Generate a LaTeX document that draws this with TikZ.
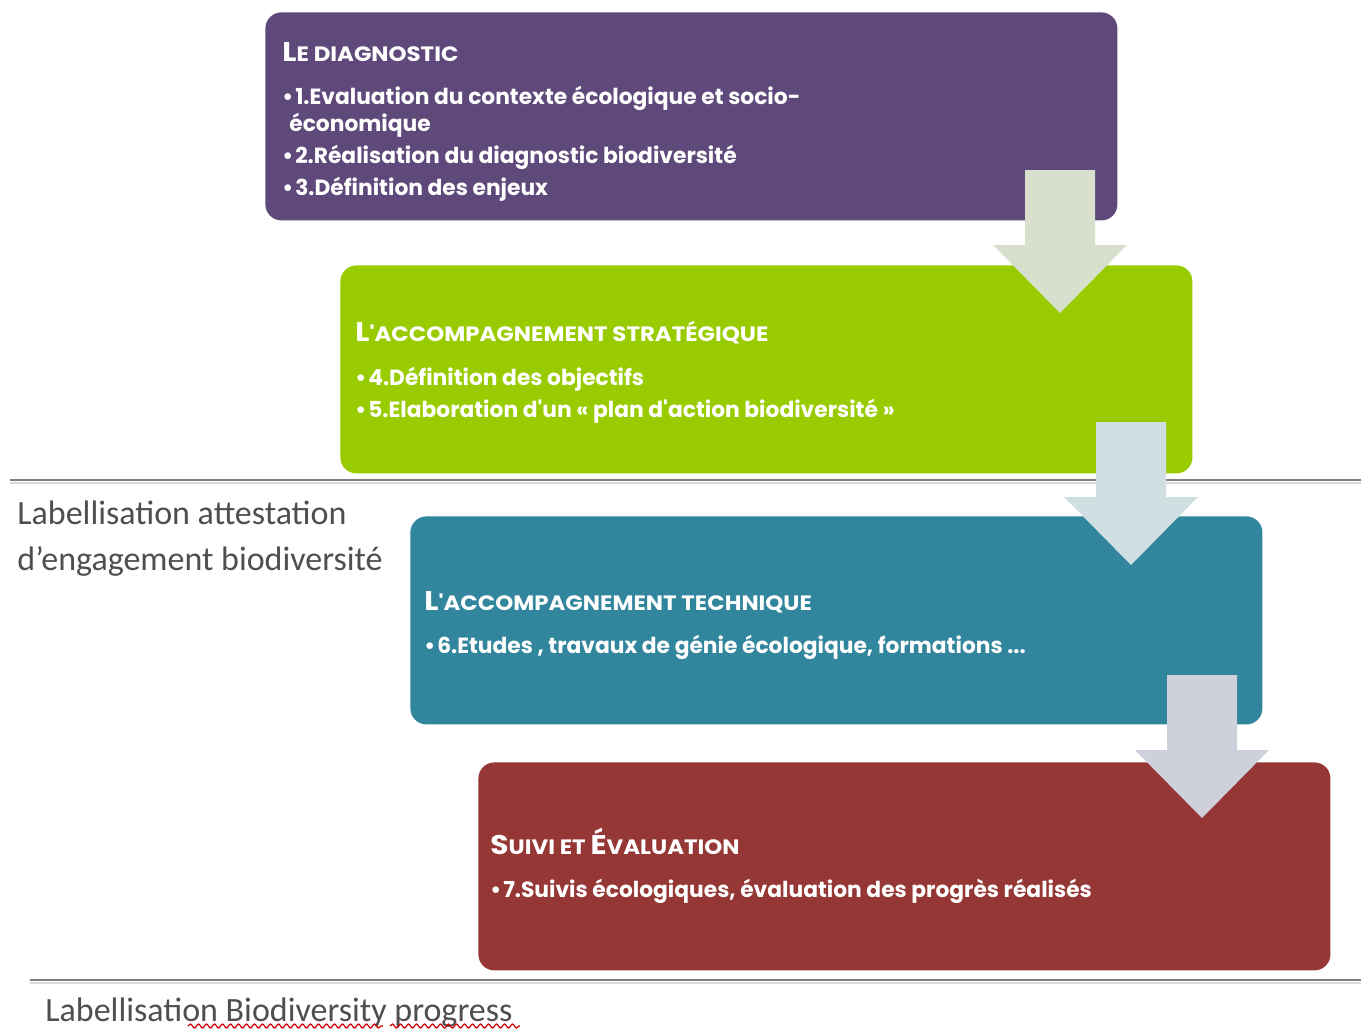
\documentclass[tikz,border=0pt]{standalone}
\usepackage{fontspec}
\setmainfont{Carlito}
\newfontfamily\bx[FakeStretch=0.99]{Poppins}
\newfontfamily\tx[FakeStretch=1.1]{Poppins}
\usetikzlibrary{decorations.pathmorphing}
\definecolor{purp}{HTML}{5F497A}
\definecolor{grn}{HTML}{99CC00}
\definecolor{teal}{HTML}{31859C}
\definecolor{rouge}{HTML}{953735}
\definecolor{arA}{HTML}{D8E0CD}
\definecolor{arB}{HTML}{CFDFE2}
\definecolor{arC}{HTML}{CED0DC}
\definecolor{lab}{HTML}{4F4F4F}
\definecolor{rule}{HTML}{7F7F7F}
\newcommand\ttl[2]{{\fontsize{13.5}{15}\selectfont #1}{\fontsize{10.4}{12}\selectfont #2}}
\newcommand\blt{\textbullet\hspace{1pt}}
\begin{document}
\begin{tikzpicture}[x=0.5pt,y=-0.5pt,
  stage/.style={anchor=north west, rounded corners=8pt, inner sep=0, minimum width=426pt, minimum height=104pt},
  bt/.style={anchor=base west, inner sep=0, text=white, font=\bx\bfseries\fontsize{11}{12}\selectfont},
  tt/.style={anchor=base west, inner sep=0, text=white, font=\tx\bfseries},
  lbl/.style={anchor=base west, inner sep=0, text=lab, font=\fontsize{17}{20}\selectfont},
  rulel/.style={draw=rule, line width=1.2pt},
  shad/.style={draw=black!15, line width=1pt}]
\useasboundingbox (0,0) rectangle (1361,1029);
\fill[white] (0,0) rectangle (1361,1029);
% stage boxes
\node[stage, fill=purp] (b1) at (265,12) {};
\node[stage, fill=grn] (b2) at (340,265) {};
\node[stage, fill=teal] (b3) at (410,516) {};
\node[stage, fill=rouge] (b4) at (478,762) {};
% rules
\draw[shad] (10,483) -- (1361,483);
\draw[rulel] (10,480) -- (1361,480);
\draw[shad] (30,983) -- (1361,983);
\draw[rulel] (30,980) -- (1361,980);
% block arrows
\fill[arA] (1025,170) -- (1095,170) -- (1095,245) -- (1127,245) -- (1060,313) -- (993,245) -- (1025,245) -- cycle;
\fill[arB] (1096,422) -- (1166,422) -- (1166,497) -- (1198,497) -- (1131,565) -- (1064,497) -- (1096,497) -- cycle;
\fill[arC] (1167,675) -- (1237,675) -- (1237,750) -- (1269,750) -- (1202,818) -- (1135,750) -- (1167,750) -- cycle;
% box 1 text
\node[tt] (t1) at (282,61) {\ttl{L}{E DIAGNOSTIC}};
\node[bt] (t1a) at (282,104) {\blt 1.Evaluation du contexte écologique et socio-};
\node[bt] (t1b) at (289,131) {économique};
\node[bt] (t1c) at (282,163) {\blt 2.Réalisation du diagnostic biodiversité};
\node[bt] (t1d) at (282,195) {\blt 3.Définition des enjeux};
% box 2 text
\node[tt] (t2) at (355,341) {\ttl{L}{'ACCOMPAGNEMENT STRATÉGIQUE}};
\node[bt] (t2a) at (355,385) {\blt 4.Définition des objectifs};
\node[bt] (t2b) at (355,417) {\blt 5.Elaboration d'un « plan d'action biodiversité »};
% box 3 text
\node[tt] (t3) at (424,610) {\ttl{L}{'ACCOMPAGNEMENT TECHNIQUE}};
\node[bt] (t3a) at (424,653) {\blt 6.Etudes , travaux de génie écologique, formations ...};
% box 4 text
\node[tt] (t4) at (490,854) {\ttl{S}{UIVI ET }\ttl{É}{VALUATION}};
\node[bt] (t4a) at (490,897) {\blt 7.Suivis écologiques, évaluation des progrès réalisés};
% side labels
\node[lbl] (l1) at (17,524) {Labellisation attestation};
\node[lbl] (l2) at (17,570) {d’engagement biodiversité};
\node[lbl] (l3) at (45,1021) {Labellisation Biodiversity progress};
\draw[red!80!black, line width=0.6pt, decorate, decoration={snake, amplitude=1pt, segment length=4pt}] (188,1026) -- (383,1026);
\draw[red!80!black, line width=0.6pt, decorate, decoration={snake, amplitude=1pt, segment length=4pt}] (390,1026) -- (520,1026);
\end{tikzpicture}
\end{document}
